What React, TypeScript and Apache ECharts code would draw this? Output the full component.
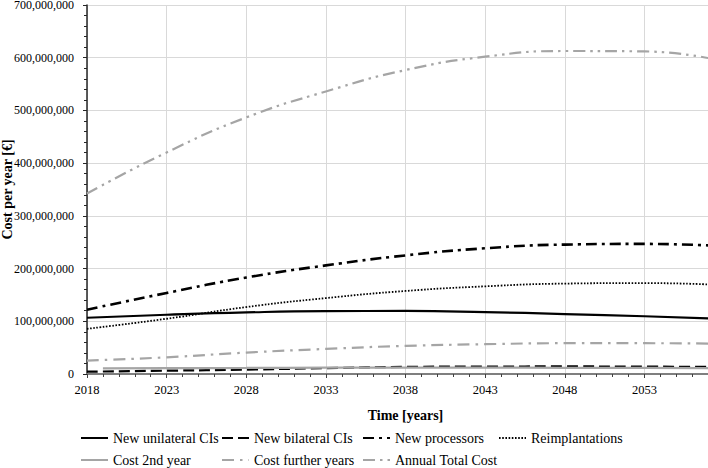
import React, { useEffect, useRef } from "react";
import * as echarts from "echarts";

const years = [2018, 2023, 2028, 2033, 2038, 2043, 2048, 2053, 2057];
const years2nd = [2019, 2023, 2028, 2033, 2038, 2043, 2048, 2053, 2057];

const newUnilateral = [106.7, 112.4, 116.8, 119.2, 119.6, 117.5, 113.7, 109.6, 105.6];
const newBilateral = [4.4, 6.3, 8.3, 11.2, 13.4, 14.1, 14.3, 14.0, 13.3];
const newProcessors = [122, 153.7, 183, 206, 225, 238.5, 245.5, 246.8, 244];
const reimplantations = [85.7, 104.8, 127, 144, 157.5, 166.3, 171.5, 172.5, 170];
const cost2ndYear = [10.5, 11.0, 11.5, 12.0, 12.2, 12.1, 11.8, 11.5, 11.0];
const costFurtherYears = [25.4, 31.7, 40.6, 47.6, 53.3, 56.5, 58.4, 58.4, 57.8];
const annualTotal = [342.4, 420.3, 486.7, 536, 576.6, 601.9, 612.7, 612.0, 599.4];

const legendRow1 = ["New unilateral CIs", "New bilateral CIs", "New processors", "Reimplantations"];
const legendRow2 = ["Cost 2nd year", "Cost further years", "Annual Total Cost"];

const FONT = "Liberation Serif";
const BLACK = "#000000";
const GRAY = "#a5a5a5";

const toPairs = (xs: number[], vs: number[]) => xs.map((x, i) => [x, vs[i] * 1e6]);

export default function App() {
  const ref = useRef<HTMLDivElement>(null);
  useEffect(() => {
    if (!ref.current) return;
    const chart = echarts.init(ref.current, undefined, { renderer: "svg" });

    const mk = (name: string, xs: number[], vs: number[], color: string, type: any, width: number) => ({
      name,
      type: "line",
      data: toPairs(xs, vs),
      smooth: 0.5,
      showSymbol: false,
      symbol: "none",
      lineStyle: { color, type, width, cap: "butt" },
      itemStyle: { color },
      z: 3,
    });

    const series = [
      mk("New unilateral CIs", years, newUnilateral, BLACK, "solid", 2.2),
      mk("New bilateral CIs", years, newBilateral, BLACK, [11, 5], 2.2),
      mk("New processors", years, newProcessors, BLACK, [11, 5, 3, 5], 2.6),
      mk("Reimplantations", years, reimplantations, BLACK, [1.6, 1.6], 1.8),
      mk("Cost 2nd year", years2nd, cost2ndYear, GRAY, "solid", 2.2),
      mk("Cost further years", years, costFurtherYears, GRAY, [12, 6, 2.5, 6], 2.2),
      mk("Annual Total Cost", years, annualTotal, GRAY, [12, 5, 2.5, 5, 2.5, 5], 2.2),
    ];

    const legendPos1 = [80, 221, 362, 498];
    const legendPos2 = [80, 221, 362];
    const legendCommon = {
      itemWidth: 27,
      itemHeight: 10,
      itemGap: 0,
      padding: 0,
      itemStyle: { opacity: 0 },
      textStyle: { fontFamily: FONT, fontSize: 14, color: BLACK },
    };
    const legends = [
      ...legendRow1.map((n, i) => ({ ...legendCommon, data: [n], left: legendPos1[i], top: 431 })),
      ...legendRow2.map((n, i) => ({ ...legendCommon, data: [n], left: legendPos2[i], top: 453 })),
    ];

    chart.setOption({
      animation: false,
      backgroundColor: "#ffffff",
      textStyle: { fontFamily: FONT },
      grid: { left: 87, right: -16, top: 5, bottom: 94, containLabel: false, outerBoundsMode: "none" },
      legend: legends,
      xAxis: {
        type: "value",
        min: 2018,
        max: 2058,
        interval: 5,
        name: "Time [years]",
        nameLocation: "middle",
        nameGap: 34,
        nameMoveOverlap: false,
        nameTextStyle: { fontFamily: FONT, fontSize: 14, fontWeight: "bold", color: BLACK },
        axisLine: { show: true, onZero: false, lineStyle: { color: "#7f7f7f", width: 2 } },
        axisTick: { show: true, length: 4, lineStyle: { color: "#404040", width: 1 } },
        minorTick: { show: true, splitNumber: 5, length: 3, lineStyle: { color: "#404040", width: 1 } },
        axisLabel: {
          fontFamily: FONT,
          fontSize: 12.5,
          color: BLACK,
          margin: 9,
          showMaxLabel: false,
          formatter: (v: number) => String(v),
        },
        splitLine: { show: true, lineStyle: { color: "#d9d9d9", width: 1 } },
        minorSplitLine: { show: false },
      },
      yAxis: {
        type: "value",
        min: 0,
        max: 700000000,
        interval: 100000000,
        name: "Cost per year [€]",
        nameLocation: "middle",
        nameGap: 73,
        nameMoveOverlap: false,
        nameTextStyle: { fontFamily: FONT, fontSize: 14, fontWeight: "bold", color: BLACK },
        axisLine: { show: true, lineStyle: { color: "#262626", width: 1.5 } },
        axisTick: { show: true, length: 4, lineStyle: { color: "#262626", width: 1 } },
        minorTick: { show: true, splitNumber: 5, length: 3, lineStyle: { color: "#262626", width: 1 } },
        axisLabel: {
          fontFamily: FONT,
          fontSize: 12,
          color: BLACK,
          margin: 13,
          formatter: (v: number) => v.toLocaleString("en-US"),
        },
        splitLine: { show: true, lineStyle: { color: "#d9d9d9", width: 1 } },
      },
      series,
    });

    return () => chart.dispose();
  }, []);

  return (
    <div
      ref={ref}
      style={{ position: "fixed", left: 0, top: 0, width: 708, height: 468, background: "#fff" }}
    />
  );
}
